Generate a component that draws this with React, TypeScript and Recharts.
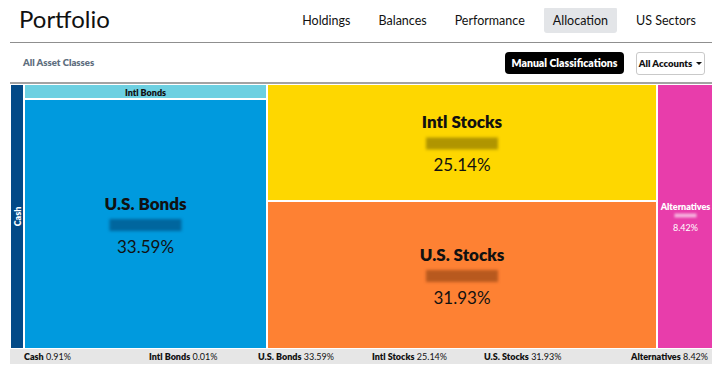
import { Treemap } from "recharts";

const classes = ["Cash", "Intl Bonds", "U.S. Bonds", "Intl Stocks", "U.S. Stocks", "Alternatives"];
const shares = [0.91, 0.01, 33.59, 25.14, 31.93, 8.42];
// tile areas as drawn (% of the map) - tiny classes get a minimum tile
const tileWeights = [1.99, 1.89, 32.63, 24.49, 30.98, 8.03];

const navItems = ["Holdings", "Balances", "Performance", "Allocation", "US Sectors"];
const activeNav = "Allocation";

const tileStyle: Record<string, { fill: string; text: string; mask: string }> = {
  Cash: { fill: "#034a87", text: "#fff", mask: "rgba(0,0,0,0.3)" },
  "Intl Bonds": { fill: "#6dd0e1", text: "#111", mask: "rgba(0,0,0,0.3)" },
  "U.S. Bonds": { fill: "#009ade", text: "#111", mask: "rgba(0,40,80,0.45)" },
  "Intl Stocks": { fill: "#fed700", text: "#111", mask: "rgba(60,50,0,0.4)" },
  "U.S. Stocks": { fill: "#fe8133", text: "#111", mask: "rgba(80,30,0,0.4)" },
  Alternatives: { fill: "#e83dab", text: "#fff", mask: "rgba(255,255,255,0.6)" },
};

// legend item offsets inside the bottom strip
const legendLeft = [14, 139, 248, 362, 474, 621];

const leaves = classes.map((name, i) => ({ name, share: shares[i], weight: tileWeights[i] }));
// cash gets its own column, everything else is laid out beside it
const treeData = [leaves[0], { name: "rest", children: leaves.slice(1) }];

const FONT = "Lato, 'Noto Sans', sans-serif";

function Tile(props: any) {
  const { x, y, width, height, name, share, children, depth } = props;
  if (depth === 0 || (children && children.length)) return null;
  const st = tileStyle[name];
  if (!st) return null;
  const cx = x + width / 2;
  const cy = y + height / 2;
  const pct = share.toFixed(2) + "%";

  let label = null;
  if (width < 30) {
    label = (
      <text
        x={cx}
        y={cy}
        transform={`rotate(-90 ${cx} ${cy})`}
        textAnchor="middle"
        dominantBaseline="central"
        fontSize={9}
        fontWeight={800}
      >
        {name}
      </text>
    );
  } else if (height < 24) {
    label = (
      <text x={cx} y={cy + 0.5} textAnchor="middle" dominantBaseline="central" fontSize={9} fontWeight={800}>
        {name}
      </text>
    );
  } else if (width < 90) {
    label = (
      <>
        <text x={cx} y={cy - 10} textAnchor="middle" dominantBaseline="central" fontSize={9} fontWeight={800}>
          {name}
        </text>
        <rect x={cx - 11} y={cy - 3} width={22} height={4} fill={st.mask} style={{ filter: "blur(1px)" }} />
        <text x={cx} y={cy + 11} textAnchor="middle" dominantBaseline="central" fontSize={9}>
          {pct}
        </text>
      </>
    );
  } else {
    label = (
      <>
        <text x={cx} y={cy - 21} textAnchor="middle" dominantBaseline="central" fontSize={17} fontWeight={800}>
          {name}
        </text>
        <rect x={cx - 36} y={cy - 5} width={72} height={12} fill={st.mask} style={{ filter: "blur(1.5px)" }} />
        <text x={cx} y={cy + 22} textAnchor="middle" dominantBaseline="central" fontSize={17}>
          {pct}
        </text>
      </>
    );
  }

  return (
    <g>
      <rect x={x} y={y} width={width} height={height} fill={st.fill} stroke="#fff" strokeWidth={2} />
      <g fill={st.text} stroke="none" fontFamily={FONT}>
        {label}
      </g>
    </g>
  );
}

export default function App() {
  return (
    <div
      style={{
        position: "relative",
        width: 704,
        height: 358,
        marginLeft: 2,
        fontFamily: FONT,
        color: "#111",
      }}
    >
      <div style={{ position: "absolute", left: 9, top: -4, fontSize: 24 }}>Portfolio</div>

      <div style={{ position: "absolute", right: 9, top: -1, display: "flex", gap: 10 }}>
        {navItems.map((item) => (
          <div
            key={item}
            style={{
              padding: "0 9px",
              height: 26,
              lineHeight: "27px",
              fontSize: 12.5,
              borderRadius: 3,
              background: item === activeNav ? "#e3e5e8" : "transparent",
            }}
          >
            {item}
          </div>
        ))}
      </div>

      <div style={{ position: "absolute", left: 0, top: 34, width: 704, height: 1, background: "#8f8f8f" }} />

      <div
        style={{
          position: "absolute",
          left: 13,
          top: 48,
          fontSize: 9.5,
          lineHeight: "14px",
          fontWeight: 800,
          color: "#5e6e7e",
        }}
      >
        All Asset Classes
      </div>

      <div
        style={{
          position: "absolute",
          left: 495,
          top: 44,
          width: 119,
          height: 22,
          background: "#000",
          color: "#fff",
          borderRadius: 4,
          fontSize: 10.5,
          fontWeight: 800,
          display: "flex",
          alignItems: "center",
          justifyContent: "center",
        }}
      >
        Manual Classifications
      </div>

      <div
        style={{
          position: "absolute",
          left: 626,
          top: 44,
          width: 69,
          height: 23,
          boxSizing: "border-box",
          border: "1px solid #c9c9c9",
          borderRadius: 3,
          fontSize: 9.5,
          fontWeight: 800,
          display: "flex",
          alignItems: "center",
          justifyContent: "center",
          gap: 4,
        }}
      >
        All Accounts
        <span
          style={{
            width: 0,
            height: 0,
            borderLeft: "3px solid transparent",
            borderRight: "3px solid transparent",
            borderTop: "3px solid #111",
          }}
        />
      </div>

      <div style={{ position: "absolute", left: 0, top: 74, width: 704, height: 2, background: "#a3a3a3" }} />

      <div style={{ position: "absolute", left: 0, top: 76 }}>
        <Treemap
          width={704}
          height={265}
          data={treeData}
          dataKey="weight"
          nameKey="name"
          stroke="#fff"
          isAnimationActive={false}
          content={Tile as any}
        />
      </div>

      <div
        style={{
          position: "absolute",
          left: 0,
          top: 341,
          width: 704,
          height: 15,
          background: "#e6e6e6",
          fontSize: 9,
          lineHeight: "15px",
        }}
      >
        {classes.map((name, i) => (
          <span key={name} style={{ position: "absolute", left: legendLeft[i], whiteSpace: "nowrap" }}>
            <span style={{ fontWeight: 800 }}>{name}</span> {shares[i].toFixed(2)}%
          </span>
        ))}
      </div>
    </div>
  );
}
